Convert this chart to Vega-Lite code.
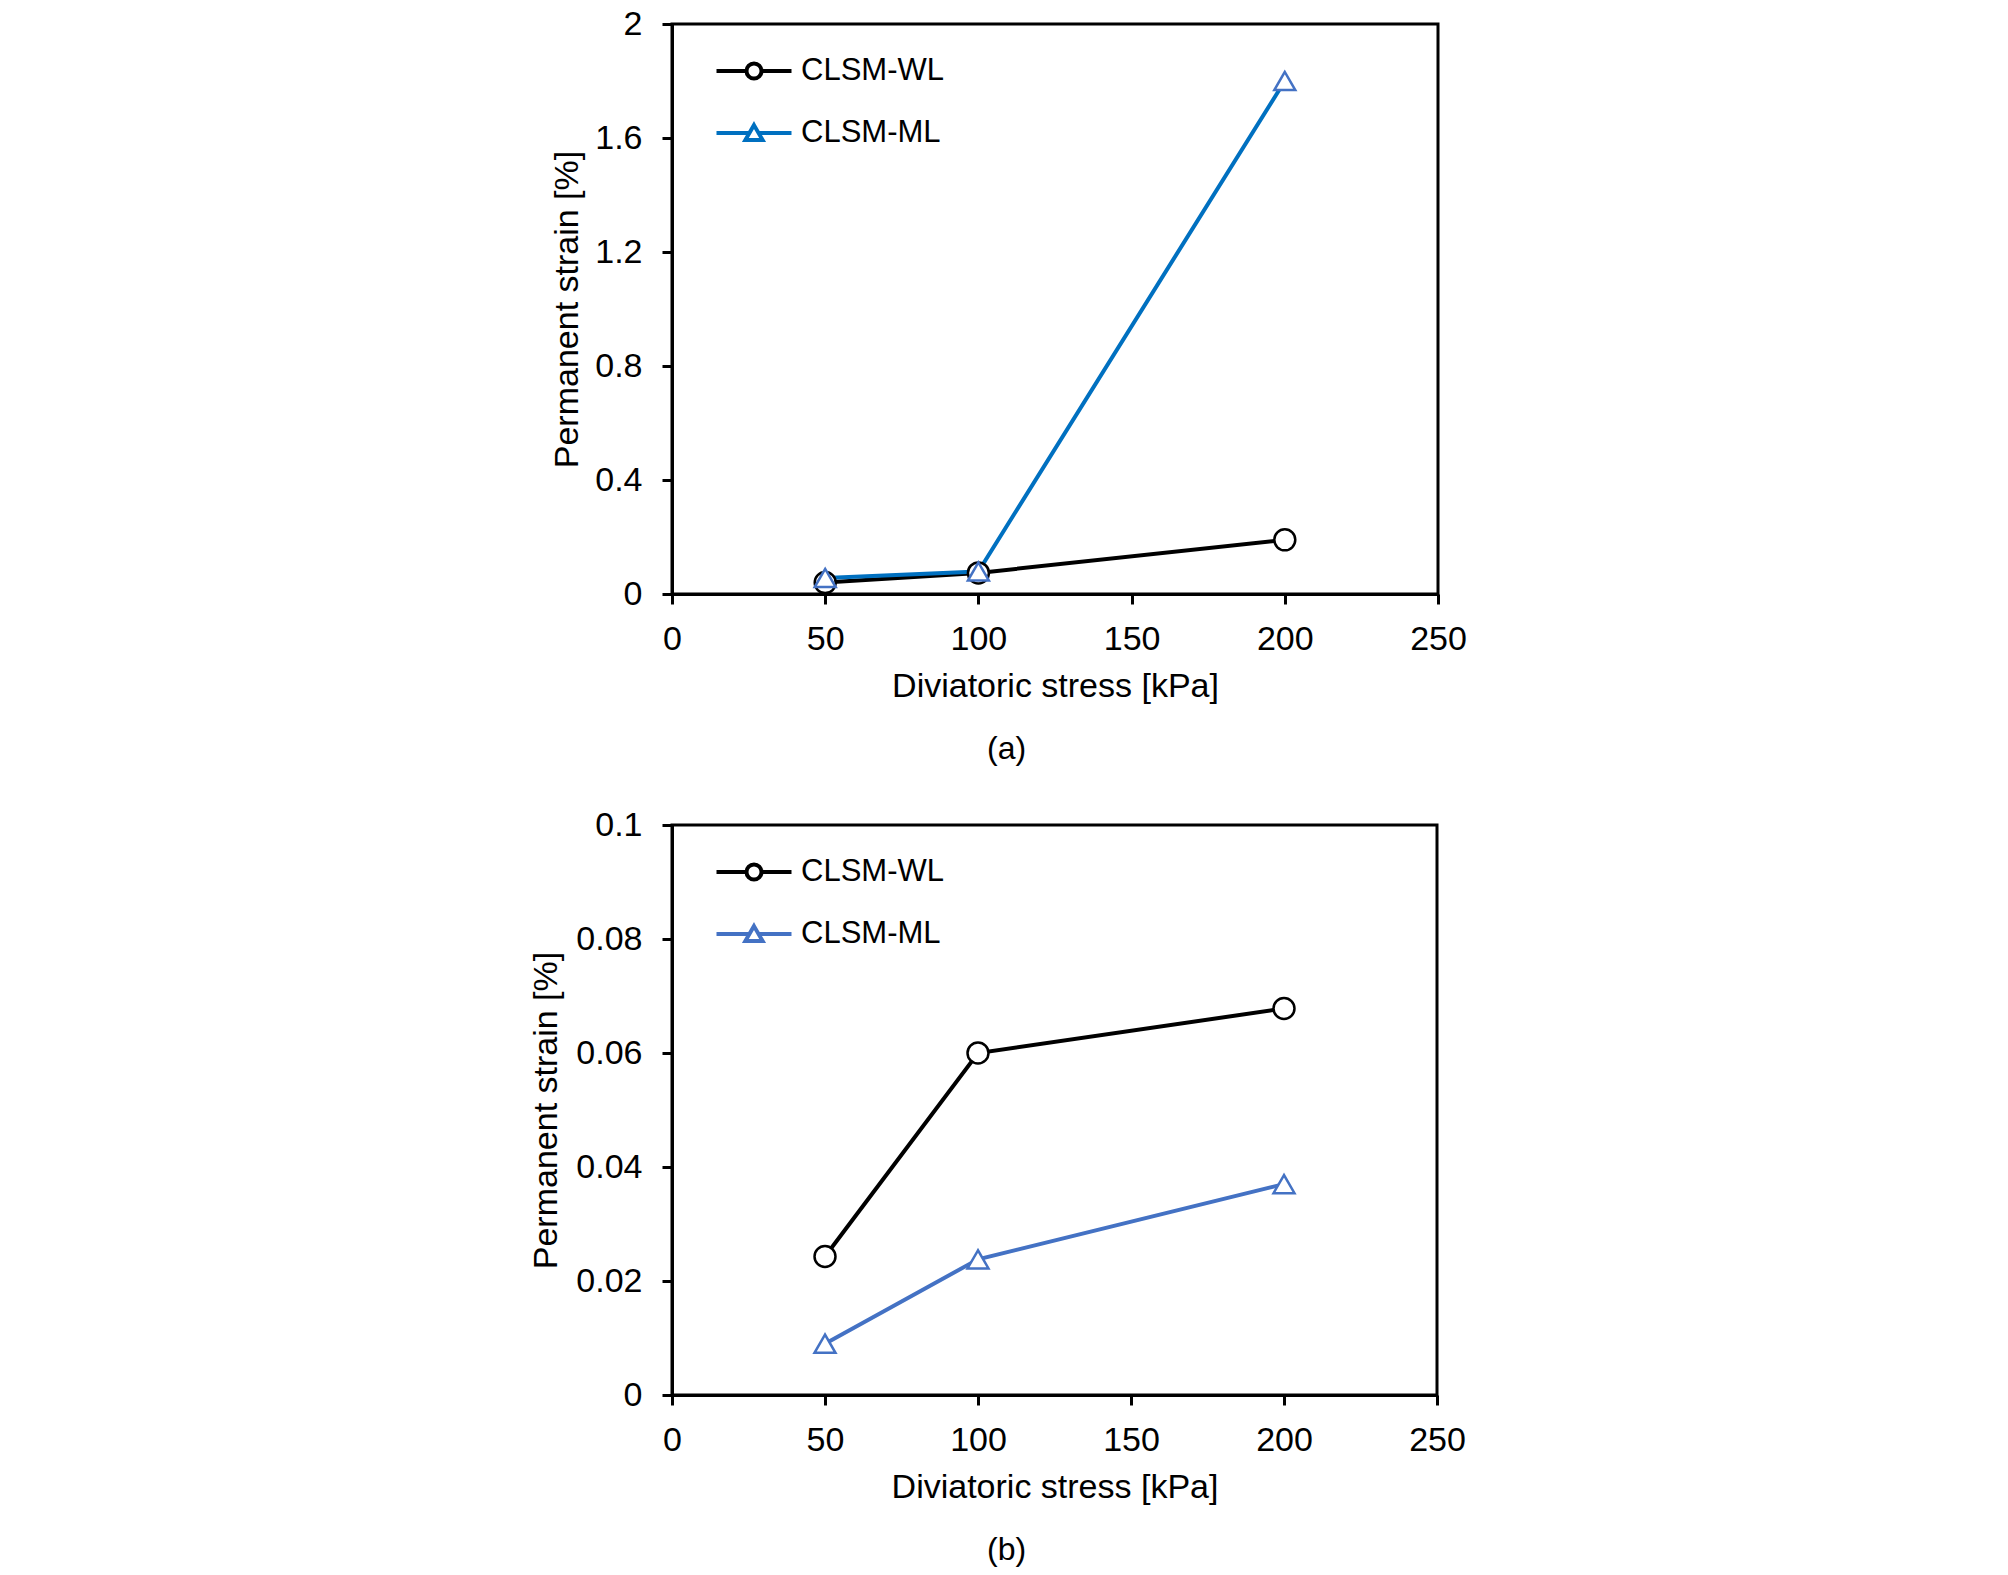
{
  "$schema": "https://vega.github.io/schema/vega-lite/v6.json",
  "padding": {"left": 528, "top": 5, "right": 10, "bottom": 5},
  "datasets": {
    "panelA": [
      {"series": "CLSM-WL", "stress": 50, "strain": 0.04},
      {"series": "CLSM-WL", "stress": 100, "strain": 0.074},
      {"series": "CLSM-WL", "stress": 200, "strain": 0.19},
      {"series": "CLSM-ML", "stress": 50, "strain": 0.056},
      {"series": "CLSM-ML", "stress": 100, "strain": 0.079},
      {"series": "CLSM-ML", "stress": 200, "strain": 1.8}
    ],
    "panelB": [
      {"series": "CLSM-WL", "stress": 50, "strain": 0.0243},
      {"series": "CLSM-WL", "stress": 100, "strain": 0.06},
      {"series": "CLSM-WL", "stress": 200, "strain": 0.0678},
      {"series": "CLSM-ML", "stress": 50, "strain": 0.009},
      {"series": "CLSM-ML", "stress": 100, "strain": 0.0238},
      {"series": "CLSM-ML", "stress": 200, "strain": 0.037}
    ]
  },
  "bounds": "flush",
  "spacing": 231,
  "vconcat": [
    {
      "width": 766,
      "height": 570,
      "data": {"name": "panelA"},
      "title": {"text": "(a)", "orient": "bottom", "frame": "bounds", "anchor": "middle", "offset": 31, "dx": -2},
      "layer": [
        {
          "mark": {"type": "line", "strokeWidth": 4},
          "encoding": {
            "x": {"field": "stress", "type": "quantitative", "scale": {"domain": [0, 250], "nice": false},
                  "axis": {"values": [0, 50, 100, 150, 200, 250], "title": "Diviatoric stress [kPa]"}},
            "y": {"field": "strain", "type": "quantitative", "scale": {"domain": [0, 2], "nice": false},
                  "axis": {"values": [0, 0.4, 0.8, 1.2, 1.6, 2], "labelExpr": "datum.value + ''", "title": "Permanent strain [%]", "titlePadding": 10}},
            "color": {
              "field": "series", "type": "nominal",
              "scale": {"domain": ["CLSM-WL", "CLSM-ML"], "range": ["#000000", "#0070C0"]},
              "legend": {
                "orient": "none", "legendX": 61, "legendY": 26, "title": null, "padding": 0,
                "symbolSize": 1406, "symbolStrokeWidth": 4, "rowPadding": 25, "labelOffset": 26,
                "labelFontSize": 31, "labelColor": "black",
                "encode": {"symbols": {"update": {
                  "shape": {"signal": "datum.value === 'CLSM-WL' ? 'M-2,0H-0.4M0.4,0H2M-0.4,0A0.4,0.4,0,1,1,0.4,0A0.4,0.4,0,1,1,-0.4,0Z' : 'M-2,0H-0.24M0.24,0H2M0,-0.42L0.46,0.38L-0.46,0.38Z'"},
                  "fill": {"value": "white"}
                }}}
              }
            }
          }
        },
        {
          "mark": {"type": "point", "filled": false, "fill": "white", "size": 440, "strokeWidth": 2.5, "opacity": 1},
          "encoding": {
            "x": {"field": "stress", "type": "quantitative"},
            "y": {"field": "strain", "type": "quantitative"},
            "shape": {"field": "series", "type": "nominal", "scale": {"domain": ["CLSM-WL", "CLSM-ML"], "range": ["circle", "triangle-up"]}, "legend": null},
            "stroke": {"field": "series", "type": "nominal", "scale": {"domain": ["CLSM-WL", "CLSM-ML"], "range": ["#000000", "#4472C4"]}, "legend": null}
          }
        }
      ]
    },
    {
      "width": 765,
      "height": 570,
      "data": {"name": "panelB"},
      "title": {"text": "(b)", "orient": "bottom", "frame": "bounds", "anchor": "middle", "offset": 31, "dx": 9},
      "layer": [
        {
          "mark": {"type": "line", "strokeWidth": 4},
          "encoding": {
            "x": {"field": "stress", "type": "quantitative", "scale": {"domain": [0, 250], "nice": false},
                  "axis": {"values": [0, 50, 100, 150, 200, 250], "title": "Diviatoric stress [kPa]"}},
            "y": {"field": "strain", "type": "quantitative", "scale": {"domain": [0, 0.1], "nice": false},
                  "axis": {"values": [0, 0.02, 0.04, 0.06, 0.08, 0.1], "labelExpr": "datum.value + ''", "title": "Permanent strain [%]", "titlePadding": 12}},
            "color": {
              "field": "series", "type": "nominal",
              "scale": {"domain": ["CLSM-WL", "CLSM-ML"], "range": ["#000000", "#4472C4"]},
              "legend": {
                "orient": "none", "legendX": 61, "legendY": 26, "title": null, "padding": 0,
                "symbolSize": 1406, "symbolStrokeWidth": 4, "rowPadding": 25, "labelOffset": 26,
                "labelFontSize": 31, "labelColor": "black",
                "encode": {"symbols": {"update": {
                  "shape": {"signal": "datum.value === 'CLSM-WL' ? 'M-2,0H-0.4M0.4,0H2M-0.4,0A0.4,0.4,0,1,1,0.4,0A0.4,0.4,0,1,1,-0.4,0Z' : 'M-2,0H-0.24M0.24,0H2M0,-0.42L0.46,0.38L-0.46,0.38Z'"},
                  "fill": {"value": "white"}
                }}}
              }
            }
          }
        },
        {
          "mark": {"type": "point", "filled": false, "fill": "white", "size": 440, "strokeWidth": 2.5, "opacity": 1},
          "encoding": {
            "x": {"field": "stress", "type": "quantitative"},
            "y": {"field": "strain", "type": "quantitative"},
            "shape": {"field": "series", "type": "nominal", "scale": {"domain": ["CLSM-WL", "CLSM-ML"], "range": ["circle", "triangle-up"]}, "legend": null},
            "stroke": {"field": "series", "type": "nominal", "scale": {"domain": ["CLSM-WL", "CLSM-ML"], "range": ["#000000", "#4472C4"]}, "legend": null}
          }
        }
      ]
    }
  ],
  "resolve": {"scale": {"color": "independent", "stroke": "independent", "y": "independent"}},
  "config": {
    "font": "Liberation Sans",
    "background": "white",
    "view": {"stroke": "black", "strokeWidth": 3},
    "axis": {
      "grid": false, "domainColor": "black", "domainWidth": 3, "tickColor": "black", "tickWidth": 3, "tickSize": 10,
      "labelFontSize": 34, "labelColor": "black", "labelFlush": false, "labelOverlap": false,
      "titleFontSize": 34, "titleFontWeight": "normal", "titleColor": "black"
    },
    "axisX": {"labelPadding": 18, "titlePadding": 13},
    "axisY": {"labelPadding": 20},
    "legend": {"labelFont": "Liberation Sans"},
    "title": {"fontSize": 32, "fontWeight": "normal", "color": "black", "font": "Liberation Sans"}
  }
}
